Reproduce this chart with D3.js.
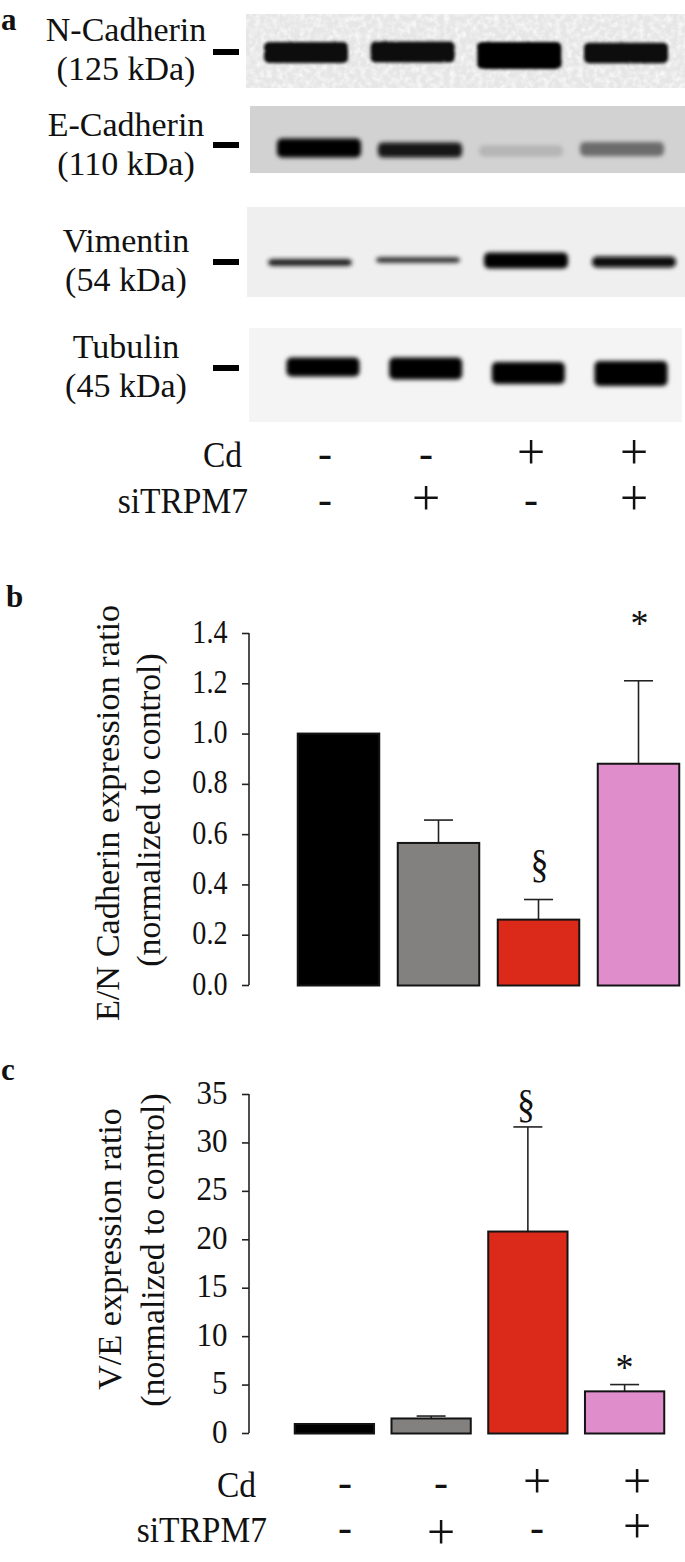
<!DOCTYPE html>
<html>
<head>
<meta charset="utf-8">
<script src="https://cdn.jsdelivr.net/npm/d3@7"></script>
<style>
  html, body { margin: 0; padding: 0; background: #fff; }
  svg { display: block; }
  text { font-family: "Liberation Serif", serif; fill: #111; }
</style>
</head>
<body>
<div id="figure"></div>
<script>
// groups
const groups = ["ctrl", "siTRPM7", "Cd", "Cd+siTRPM7"];
const cdSigns = ["-", "-", "+", "+"];
const siSigns = ["-", "+", "-", "+"];

// panel a, relative band density, thickness and migration
const nCadDensity = [0.95, 0.95, 1, 0.95];
const nCadThickness = [0.78, 0.78, 1, 0.76];
const nCadMigration = [0.05, 0, 0.35, 0.1];
const eCadDensity = [1, 0.92, 0.14, 0.5];
const eCadThickness = [1, 0.8, 0.6, 0.75];
const eCadMigration = [0, 0.2, 0.3, 0.1];
const vimDensity = [0.85, 0.8, 1, 0.98];
const vimThickness = [0.45, 0.35, 1, 0.68];
const vimMigration = [0.25, 0, 0.05, 0.2];
const tubDensity = [1, 1, 1, 1];
const tubThickness = [0.76, 0.88, 0.88, 1];
const tubMigration = [0, 0.15, 0.6, 0.65];

// panel b
const enTicks = [0, 0.2, 0.4, 0.6, 0.8, 1.0, 1.2, 1.4];
const enValues = [1.0, 0.565, 0.26, 0.88];
const enErrors = [1.0, 0.656, 0.34, 1.21];
const enMarks = ["", "", "§", "*"];

// panel c
const veTicks = [0, 5, 10, 15, 20, 25, 30, 35];
const veValues = [0.93, 1.5, 20.8, 4.3];
const veErrors = [0.93, 1.75, 31.6, 5.0];
const veMarks = ["", "", "§", "*"];

const barColors = ["#000000", "#82817f", "#dc2a1a", "#e08dcb"];

const svg = d3.select("#figure").append("svg")
    .attr("width", 685)
    .attr("height", 1562);

const defs = svg.append("defs");
const rough = defs.append("filter").attr("id", "rough")
    .attr("x", "-10%").attr("y", "-60%").attr("width", "120%").attr("height", "220%");
rough.append("feTurbulence").attr("type", "fractalNoise").attr("baseFrequency", 0.3)
    .attr("numOctaves", 2).attr("seed", 4).attr("result", "n");
rough.append("feDisplacementMap").attr("in", "SourceGraphic").attr("in2", "n")
    .attr("scale", 2).attr("result", "d");
rough.append("feGaussianBlur").attr("in", "d").attr("stdDeviation", 1.5);
const soft = defs.append("filter").attr("id", "soft")
    .attr("x", "-10%").attr("y", "-80%").attr("width", "120%").attr("height", "260%");
soft.append("feGaussianBlur").attr("stdDeviation", 2);
// pale speckle on the blot background
const mottle = defs.append("filter").attr("id", "mottle");
mottle.append("feTurbulence").attr("type", "fractalNoise").attr("baseFrequency", 0.18)
    .attr("numOctaves", 2).attr("seed", 9);
mottle.append("feColorMatrix").attr("values", "0 0 0 0 1  0 0 0 0 1  0 0 0 0 1  1.6 0 0 0 -0.62");

// stretched text, the original labels are taller than they are wide
function label(g, x, y, str, size, anchor, sx, sy, weight) {
    return g.append("text")
        .attr("transform", `translate(${x},${y}) scale(${sx},${sy})`)
        .attr("text-anchor", anchor)
        .attr("font-size", size)
        .attr("font-weight", weight || "normal")
        .text(str);
}

// ---- panel a ----
const blots = [
    { name: "N-Cadherin", kda: "(125 kDa)", x0: 246, x1: 685, y0: 14, y1: 88, bg: "#e6e6e6",
      first: 306, last: 626, w: 84, h: 27, band: 52, dash: 52, nameY: 41, kdaY: 80,
      density: nCadDensity, thick: nCadThickness, migr: nCadMigration, filter: "rough", speckle: true },
    { name: "E-Cadherin", kda: "(110 kDa)", x0: 250, x1: 685, y0: 106, y1: 173, bg: "#d2d2d2",
      first: 319, last: 622, w: 84, h: 19, band: 148, dash: 145, nameY: 136, kdaY: 175,
      density: eCadDensity, thick: eCadThickness, migr: eCadMigration, filter: "soft" },
    { name: "Vimentin", kda: "(54 kDa)", x0: 247, x1: 685, y0: 207, y1: 297, bg: "#efefef",
      first: 310, last: 634, w: 84, h: 16, band: 260, dash: 262, nameY: 252, kdaY: 291,
      density: vimDensity, thick: vimThickness, migr: vimMigration, filter: "soft" },
    { name: "Tubulin", kda: "(45 kDa)", x0: 249, x1: 682, y0: 328, y1: 422, bg: "#f4f4f4",
      first: 323, last: 631, w: 73, h: 25, band: 367, dash: 368, nameY: 358, kdaY: 397,
      density: tubDensity, thick: tubThickness, migr: tubMigration, filter: "soft" }
];

const panelA = svg.append("g");
const bandGray = d3.scaleLinear().domain([0, 1]).range(["#d2d2d2", "#050505"]);

blots.forEach(b => {
    const lane = d3.scalePoint().domain(groups).range([b.first, b.last]);
    const migrate = d3.scaleLinear().domain([0, 1]).range([b.band, b.band + 10]);
    const thick = d3.scaleLinear().domain([0, 1]).range([0, b.h]);

    panelA.append("rect")
        .attr("x", b.x0).attr("y", b.y0)
        .attr("width", b.x1 - b.x0).attr("height", b.y1 - b.y0)
        .attr("fill", b.bg);
    if (b.speckle) {
        panelA.append("rect")
            .attr("x", b.x0).attr("y", b.y0)
            .attr("width", b.x1 - b.x0).attr("height", b.y1 - b.y0)
            .attr("filter", "url(#mottle)");
    }

    panelA.selectAll(null)
        .data(groups)
        .join("rect")
        .attr("x", d => lane(d) - b.w / 2)
        .attr("y", (d, i) => migrate(b.migr[i]) - thick(b.thick[i]) / 2)
        .attr("width", b.w)
        .attr("height", (d, i) => thick(b.thick[i]))
        .attr("rx", 5)
        .attr("fill", (d, i) => bandGray(b.density[i]))
        .attr("filter", `url(#${b.filter})`);

    panelA.append("rect")
        .attr("x", 213).attr("y", b.dash - 3)
        .attr("width", 26).attr("height", 6)
        .attr("fill", "#000");

    label(panelA, 126, b.nameY, b.name, 34, "middle", 1, 1);
    label(panelA, 126, b.kdaY, b.kda, 34, "middle", 1, 1);
});

// row of + and - under a panel, baseline is the one of the minus
function signRow(signs, x, baseline, nudge) {
    svg.append("g").selectAll("text")
        .data(signs)
        .join("text")
        .attr("x", (d, i) => x(groups[i]))
        .attr("y", (d, i) => baseline + (d === "+" ? 2 : 0) + (nudge ? nudge[i] : 0))
        .attr("text-anchor", "middle")
        .attr("font-size", d => d === "+" ? 50 : 42)
        .text(d => d);
}

const signX = d3.scaleOrdinal().domain(groups).range([325, 426, 531, 634]);
label(svg, 242, 467, "Cd", 33.5, "end", 1, 1.05);
label(svg, 248, 513, "siTRPM7", 33.5, "end", 1, 1.05);
signRow(cdSigns, signX, 467);
signRow(siSigns, signX, 513);

// ---- bar panels ----
function barPanel(o) {
    const y = d3.scaleLinear().domain(o.domain).range([o.bottom, o.top]);
    const x = d3.scaleBand().domain(groups).range(o.xRange).paddingInner(o.pad).paddingOuter(0);
    const g = svg.append("g");

    const axis = g.append("g")
        .attr("transform", `translate(249,0)`)
        .call(d3.axisLeft(y).tickValues(o.ticks).tickSize(7).tickPadding(0).tickFormat(o.format));
    axis.selectAll("path, line").attr("stroke", "#222").attr("stroke-width", 1.6);
    axis.select(".domain").attr("d", `M0,${o.top}V${o.bottom}`);
    // tick labels are stretched like the rest of the text
    axis.selectAll("text").remove();
    o.ticks.forEach(t => {
        label(g, 227.5, y(t) + 9.5, o.format(t), 29, "end", o.tickS, 1.17);
    });

    // error bars go below the bars
    g.selectAll(".err")
        .data(groups)
        .join("line")
        .attr("x1", d => x(d) + x.bandwidth() / 2)
        .attr("x2", d => x(d) + x.bandwidth() / 2)
        .attr("y1", (d, i) => y(o.values[i]))
        .attr("y2", (d, i) => y(o.errors[i]))
        .attr("stroke", "#222").attr("stroke-width", 1.6);
    g.selectAll(".cap")
        .data(groups.slice(1))
        .join("line")
        .attr("x1", d => x(d) + x.bandwidth() / 2 - 14.5)
        .attr("x2", d => x(d) + x.bandwidth() / 2 + 14.5)
        .attr("y1", d => y(o.errors[groups.indexOf(d)]))
        .attr("y2", d => y(o.errors[groups.indexOf(d)]))
        .attr("stroke", "#222").attr("stroke-width", 1.6);

    g.selectAll(".bar")
        .data(groups)
        .join("rect")
        .attr("x", d => x(d) + 0.75)
        .attr("y", (d, i) => y(o.values[i]))
        .attr("width", x.bandwidth() - 1.5)
        .attr("height", (d, i) => y(0) - y(o.values[i]) + 0.5)
        .attr("fill", (d, i) => barColors[i])
        .attr("stroke", "#141414").attr("stroke-width", 2);

    // significance marks
    o.marks.forEach((m, i) => {
        if (!m) return;
        const at = o.markAt[i];
        label(g, x(groups[i]) + x.bandwidth() / 2 + at[0], at[1], m, m === "*" ? 36 : 36, "middle", 1, m === "*" ? 1.05 : 1.1);
    });

    // y titles
    label(g.append("g").attr("transform", `translate(${o.titleX[0]},${o.titleY[0]}) rotate(-90)`),
        0, 0, o.title[0], 34.3, "middle", 1, 1);
    label(g.append("g").attr("transform", `translate(${o.titleX[1]},${o.titleY[1]}) rotate(-90)`),
        0, 0, o.title[1], 33.8, "middle", 1, 1);
}

barPanel({
    domain: [0, 1.4], top: 633, bottom: 985, xRange: [297, 680], pad: 0.17,
    ticks: enTicks, values: enValues, errors: enErrors, marks: enMarks, tickS: 0.97,
    format: d3.format(".1f"),
    markAt: [null, null, [1, 876.5], [1, 636]],
    title: ["E/N Cadherin expression ratio", "(normalized to control)"],
    titleX: [119, 160], titleY: [813, 810]
});

barPanel({
    domain: [0, 35], top: 1094, bottom: 1433, xRange: [294, 665], pad: 0.165,
    ticks: veTicks, values: veValues, errors: veErrors, marks: veMarks, tickS: 1.07,
    format: d3.format("d"),
    markAt: [null, null, [-2, 1116.5], [0, 1380]],
    title: ["V/E expression ratio", "(normalized to control)"],
    titleX: [121, 164], titleY: [1249, 1250]
});

// panel c treatment rows
const signXc = d3.scaleOrdinal().domain(groups).range([345, 441, 537, 637]);
label(svg, 256, 1497, "Cd", 33.5, "end", 1, 1.05);
label(svg, 267, 1542, "siTRPM7", 33.5, "end", 1, 1.05);
signRow(cdSigns, signXc, 1496);
signRow(siSigns, signXc, 1541, [0, 5.5, 0, -0.5]);

// panel letters
label(svg, 1, 30, "a", 31, "start", 1, 1, "bold");
label(svg, 6, 607, "b", 31, "start", 1, 1, "bold");
label(svg, 1, 1080, "c", 31, "start", 1, 1, "bold");
</script>
</body>
</html>
